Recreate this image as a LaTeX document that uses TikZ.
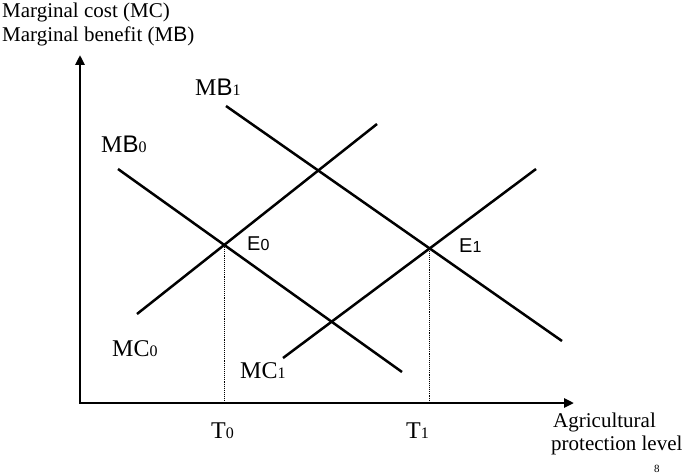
\documentclass[tikz,border=0pt]{standalone}
\usepackage{fontspec}
\setmainfont{Liberation Serif}
\newfontfamily\sansf{Liberation Sans}
\usetikzlibrary{intersections,arrows.meta}
\newcommand{\dg}[1]{{\fontsize{16}{16}\selectfont #1}}
\begin{document}
\begin{tikzpicture}[x=1pt,y=-1pt,
  curve/.style={line width=2.5pt},
  axis/.style={line width=2.8pt,{Triangle[length=10pt,width=9pt]}-{Triangle[length=10pt,width=9pt]}},
  guide/.style={densely dotted,line width=1.1pt},
  biglab/.style={font=\fontsize{24}{26}\selectfont,inner sep=0pt,anchor=base west},
  elab/.style={font=\sansf\fontsize{20}{22}\selectfont,inner sep=0pt,anchor=base west},
  txt/.style={font=\fontsize{21}{24}\selectfont,inner sep=0pt,anchor=base west}]
\useasboundingbox (0,0) rectangle (685,473);
% axes
\coordinate (O) at (80,403);
\coordinate (ytop) at (80,55);
\coordinate (xend) at (574,403);
\draw[axis] (ytop) -- (O) -- (xend);
% curve end points
\coordinate (mb0a) at (118,169); \coordinate (mb0b) at (402,372);
\coordinate (mc0a) at (137,314); \coordinate (mc0b) at (377,124);
\coordinate (mb1a) at (226,106); \coordinate (mb1b) at (562,341);
\coordinate (mc1a) at (283,358); \coordinate (mc1b) at (536,169);
\draw[curve,name path=MB0] (mb0a) -- (mb0b);
\draw[curve,name path=MC0] (mc0a) -- (mc0b);
\draw[curve,name path=MB1] (mb1a) -- (mb1b);
\draw[curve,name path=MC1] (mc1a) -- (mc1b);
\path[name intersections={of=MB0 and MC0,by=E0}];
\path[name intersections={of=MB1 and MC1,by=E1}];
\draw[guide] (E0) -- (E0 |- O);
\draw[guide] (E1) -- (E1 |- O);
% labels
\node[txt] (t1) at (2,18) {Marginal cost (MC)};
\node[txt] (t2) at (2,42) {Marginal benefit (M{\sansf B})};
\node[biglab] (lmb1) at (195,96) {M{\sansf B}\dg{1}};
\node[biglab] (lmb0) at (101,153) {M{\sansf B}\dg{0}};
\node[biglab] (lmc0) at (112,356) {MC\dg{0}};
\node[biglab] (lmc1) at (240,378) {MC\dg{1}};
\node[elab] (le0) at (247,250) {E\dg{0}};
\node[elab] (le1) at (459,252) {E\dg{1}};
\node[biglab] (lt0) at (211,438) {T\dg{0}};
\node[biglab] (lt1) at (406,438) {T\dg{1}};
\node[txt] (ag) at (553,427) {Agricultural};
\node[txt] (pl) at (551,450) {protection level};
\node[font=\fontsize{11}{12}\selectfont,inner sep=0pt,anchor=base west] (pg) at (654,472) {8};
\end{tikzpicture}
\end{document}
